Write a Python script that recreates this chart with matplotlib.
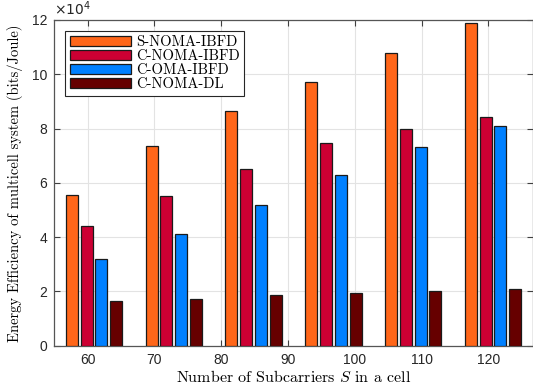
import matplotlib
matplotlib.use("Agg")
import matplotlib.pyplot as plt
import numpy as np

# Data (x 10^4 bits/Joule)
categories = ["60", "70", "80", "90", "100", "110", "120"]
series_names = ["S-NOMA-IBFD", "C-NOMA-IBFD", "C-OMA-IBFD", "C-NOMA-DL"]
s_noma_ibfd = [5.55, 7.36, 8.64, 9.70, 10.80, 11.90]
c_noma_ibfd = [4.41, 5.52, 6.50, 7.48, 7.98, 8.43]
c_oma_ibfd = [3.18, 4.12, 5.20, 6.30, 7.32, 8.11]
c_noma_dl = [1.65, 1.72, 1.87, 1.95, 2.02, 2.09]
colors = ["#FF6619", "#CC0033", "#0080FF", "#660000"]

series = [s_noma_ibfd, c_noma_ibfd, c_oma_ibfd, c_noma_dl]

plt.rcParams['mathtext.fontset'] = 'cm'
plt.rcParams['axes.unicode_minus'] = False

fig = plt.figure(figsize=(5.33, 3.86), dpi=100)
ax = fig.add_axes([54/533, 1-345.7/386, 1-54/533, (345.7-20)/386])

groups = np.arange(1, len(s_noma_ibfd) + 1)
step = 0.185
width = 0.15
for i, (vals, name, c) in enumerate(zip(series, series_names, colors)):
    off = (i - 1.5) * step
    ax.bar(groups + off, np.array(vals) * 1e4, width=width, color=c,
           edgecolor='#1a1a1a', linewidth=0.9, label=name, zorder=3)

ax.set_xlim(0.5, 6.5)
ax.set_ylim(0, 12e4)
tick_pos = np.linspace(0.921, 5.941, len(categories))
ax.set_xticks(tick_pos)
ax.set_xticklabels(categories)
ax.set_yticks(np.arange(0, 13e4, 2e4))
ax.set_yticklabels([str(v) for v in range(0, 13, 2)])

for lab in ax.get_xticklabels() + ax.get_yticklabels():
    lab.set_fontfamily('Liberation Sans')
    lab.set_fontsize(10)
    lab.set_color('#262626')

ax.tick_params(direction='in', length=4, width=0.8, top=True, right=True,
               colors='#404040', labelcolor='#262626', pad=5)
ax.grid(True, color='#e3e3e3', linewidth=0.8, zorder=0)
ax.set_axisbelow(True)
for s in ax.spines.values():
    s.set_color('#555555')
    s.set_linewidth(0.9)

ax.text(0.0, 1.005, r'$\times 10^{4}$', transform=ax.transAxes, ha='left', va='bottom',
        fontsize=10, color='#262626', math_fontfamily='dejavusans')

ax.set_xlabel(r'Number of Subcarriers $S$ in a cell', fontfamily='cmr10', fontsize=11.5,
              labelpad=2)
ax.set_ylabel('Energy Efficiency of multicell system (bits/Joule)', fontfamily='cmr10',
              fontsize=10.5, labelpad=6)

leg = ax.legend(loc='upper left', bbox_to_anchor=(0.024, 0.966), prop={'family': 'cmr10', 'size': 10.5},
                frameon=True, fancybox=False, edgecolor='#262626', framealpha=1,
                handlelength=4.2, handleheight=0.7, handletextpad=0.35, labelspacing=0.02,
                borderpad=0.3, borderaxespad=0)
leg.get_frame().set_linewidth(0.8)

fig.savefig("out.png", dpi=100)
